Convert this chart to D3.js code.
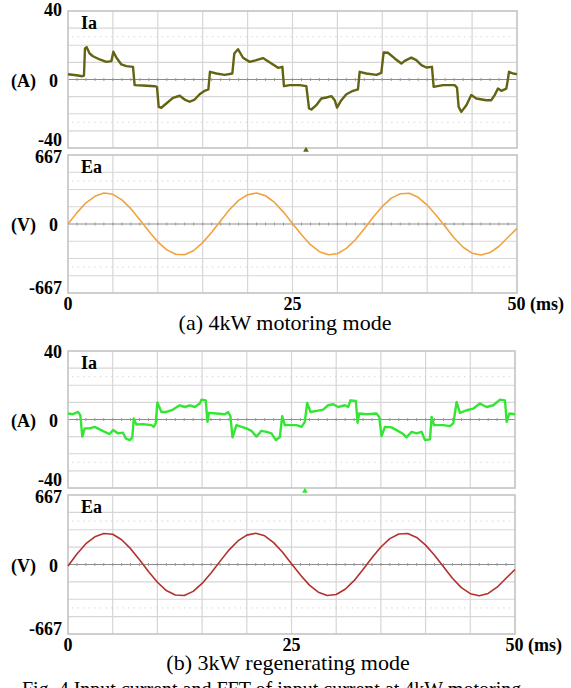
<!DOCTYPE html>
<html>
<head>
<meta charset="utf-8">
<script src="https://cdn.jsdelivr.net/npm/d3@7"></script>
<style>
  body { margin: 0; background: #fff; }
  text { font-family: "Liberation Serif", "Times New Roman", serif; }
</style>
</head>
<body>
<div id="chart"></div>
<script>
// ---------------------------------------------------------------------------
// DATA
// ---------------------------------------------------------------------------
const timeTicks = [0, 25, 50];
const iaTicks = [40, 0, -40];
const eaTicks = [667, 0, -667];

// (a) motoring: Ia [t ms, A]
const iaMotoring = [
  [0,3.1],[0.93,2.5],[1.6,1.9],[1.78,2.3],[1.89,18.1],[2.08,18.9],[2.41,15.2],[2.78,13.6],
  [3.53,11.7],[4.27,10.3],[4.83,10.7],[5.05,16.2],[5.38,12.8],[5.94,8.8],[6.5,7.8],[7.24,7.4],
  [7.42,-3.3],[8.35,-3.5],[9.65,-3.9],[9.91,-4.3],[10.1,-16.0],[10.39,-16.5],[10.95,-14.0],
  [11.69,-10.7],[12.44,-9.5],[12.99,-11.7],[13.55,-13.0],[14.11,-11.7],[14.66,-8.6],[15.22,-6.6],
  [15.63,-5.8],[15.81,4.5],[16.52,3.5],[17.45,2.7],[18.3,3.5],[18.52,15.2],[18.93,17.7],
  [19.49,12.7],[20.23,10.3],[20.97,11.3],[21.71,12.5],[22.27,10.7],[22.83,8.8],[23.39,6.8],
  [23.87,7.4],[24.05,-3.9],[24.68,-3.3],[25.8,-3.3],[26.54,-3.9],[26.84,-16.9],[27.1,-17.5],
  [27.65,-15.0],[28.21,-11.1],[28.77,-10.5],[29.33,-9.7],[29.7,-12.1],[29.96,-16.4],[30.44,-12.1],
  [31.0,-8.6],[31.74,-6.6],[32.29,-5.8],[32.48,4.5],[33.22,3.5],[34.34,2.7],[34.89,3.9],
  [35.15,15.8],[35.63,15.6],[36.38,12.3],[37.12,9.3],[37.49,10.9],[38.23,12.8],[38.79,11.3],
  [39.35,8.4],[39.9,7.0],[40.53,7.4],[40.72,-4.3],[41.76,-3.3],[43.06,-3.3],[43.32,-4.7],
  [43.5,-16.0],[43.8,-18.9],[44.36,-15.0],[44.91,-9.1],[45.47,-11.1],[46.58,-12.1],[47.14,-12.1],
  [47.51,-9.1],[47.88,-5.3],[48.26,-6.6],[48.81,-5.3],[48.96,-0.8],[49.11,4.5],[49.55,3.5],[50,3.1]
];

// (a) motoring: Ea sampled each 1 ms, V
const eaMotoring = [
  0,110,205,268,299,287,233,148,42,-70,-172,-250,-293,-297,-256,-180,-80,32,140,228,
  283,300,273,208,115,5,-104,-200,-268,-298,-287,-236,-152,-45,68,170,250,293,297,258,
  183,85,-25,-135,-225,-282,-300,-276,-215,-128,-42
];

// (b) regenerating: Ia [t ms, A]
const iaRegen = [
  [0,3.5],[0.56,3.1],[1.12,4.4],[1.38,2.5],[1.6,-10.0],[1.87,-5.2],[2.43,-5.2],[2.99,-4.3],
  [3.54,-5.8],[4.1,-7.2],[4.66,-8.5],[5.04,-6.2],[5.6,-8.1],[6.16,-7.7],[6.46,-11.0],[6.9,-12.0],
  [7.2,-10.4],[7.35,0.6],[7.65,-2.9],[8.4,-2.7],[9.33,-3.3],[9.59,-4.3],[9.81,-2.3],[10.0,9.9],
  [10.45,4.4],[11.01,4.4],[11.75,5.8],[12.5,8.3],[13.06,7.3],[13.62,8.3],[14.18,7.3],[14.74,9.3],
  [14.93,11.6],[15.41,11.2],[15.6,-1.4],[15.78,3.9],[16.6,3.5],[17.54,3.1],[17.91,4.4],[18.17,1.9],
  [18.4,-10.4],[18.84,-3.3],[19.4,-4.3],[19.96,-5.2],[20.52,-6.6],[21.08,-10.0],[21.64,-6.6],
  [22.2,-7.2],[22.76,-8.1],[23.25,-12.0],[23.69,-10.4],[23.96,1.9],[24.25,-3.3],[25.56,-3.3],
  [26.12,-4.3],[26.49,-1.4],[26.75,9.7],[27.13,4.4],[27.8,5.0],[28.54,5.8],[29.1,8.3],[29.66,8.9],
  [30.22,7.3],[30.97,8.3],[31.34,7.3],[31.6,11.2],[32.2,10.8],[32.39,-1.9],[32.57,3.5],[33.4,3.1],
  [34.51,3.5],[34.81,1.5],[35.07,-9.7],[35.45,-4.3],[36.19,-4.6],[36.75,-6.2],[37.5,-8.5],
  [37.87,-10.4],[38.43,-7.2],[38.99,-8.1],[39.55,-7.2],[39.93,-12.0],[40.49,-11.6],[40.67,1.5],
  [40.93,-3.3],[41.98,-3.3],[42.72,-3.9],[43.1,-2.3],[43.47,10.2],[43.84,3.9],[44.59,5.4],
  [45.34,6.4],[46.08,9.3],[46.83,7.3],[47.57,8.3],[48.32,11.6],[48.88,11.2],[49.07,-1.4],
  [49.37,3.5],[50,3.1]
];

// (b) regenerating: Ea sampled each 1 ms, V
const eaRegen = [
  -15,100,200,266,298,290,238,152,45,-68,-170,-250,-292,-298,-258,-182,-82,30,138,226,
  282,300,275,210,118,8,-100,-198,-266,-298,-288,-238,-155,-48,65,168,248,292,298,260,
  186,88,-22,-132,-222,-280,-300,-278,-218,-132,-48
];

// ---------------------------------------------------------------------------
// SVG setup
// ---------------------------------------------------------------------------
const svg = d3.select("#chart")
  .append("svg")
  .attr("width", 571)
  .attr("height", 688);

const fontB = "bold";

function drawPanel(opt) {
  const { x0, x1, y0, y1, domain, series, color, name, ticks, unit, topOff, botOff, width } = opt;

  const x = d3.scaleLinear().domain([0, 50]).range([x0, x1]);
  const y = d3.scaleLinear().domain(domain).range([y1, y0]);
  const g = svg.append("g");

  // grid
  g.selectAll(".vg").data(d3.range(5, 50, 5)).enter().append("line")
    .attr("x1", d => x(d)).attr("x2", d => x(d))
    .attr("y1", y0).attr("y2", y1)
    .attr("stroke", "#d6d6d6").attr("stroke-width", 1.2);

  const step = (domain[1] - domain[0]) / 8;
  g.selectAll(".hg").data(d3.range(1, 8).filter(i => i !== 4).map(i => domain[0] + i * step))
    .enter().append("line")
    .attr("x1", x0).attr("x2", x1)
    .attr("y1", d => y(d)).attr("y2", d => y(d))
    .attr("stroke", "#d6d6d6").attr("stroke-width", 1.2);

  // dotted lines at +-5/8 full scale
  g.selectAll(".dg").data([domain[1] * 5 / 8, domain[0] * 5 / 8]).enter().append("line")
    .attr("x1", x0 + 4).attr("x2", x1 - 4)
    .attr("y1", d => y(d)).attr("y2", d => y(d))
    .attr("stroke", "#cfcfcf").attr("stroke-width", 1)
    .attr("stroke-dasharray", "1.2,4.4");

  // zero axis with minor ticks
  g.append("line")
    .attr("x1", x0).attr("x2", x1)
    .attr("y1", y(0)).attr("y2", y(0))
    .attr("stroke", "#8c8c8c").attr("stroke-width", 1);
  g.selectAll(".zt").data(d3.range(1, 50, 1)).enter().append("line")
    .attr("x1", d => x(d)).attr("x2", d => x(d))
    .attr("y1", y(0) - 1.5).attr("y2", y(0) + 1.5)
    .attr("stroke", "#9a9a9a").attr("stroke-width", 1);

  // border
  g.append("rect")
    .attr("x", x0).attr("y", y0)
    .attr("width", x1 - x0).attr("height", y1 - y0)
    .attr("fill", "none").attr("stroke", "#c4c4c4").attr("stroke-width", 1.6);

  // trace
  g.append("path")
    .datum(series)
    .attr("fill", "none")
    .attr("stroke", color)
    .attr("stroke-width", width)
    .attr("stroke-linejoin", "round")
    .attr("d", d3.line().x(d => x(d[0])).y(d => y(d[1])));

  // labels
  g.append("text").attr("x", x0 + 13).attr("y", y0 + 18)
    .attr("font-size", 18).attr("font-weight", fontB).text(name);

  g.append("text").attr("x", 62).attr("y", y0 + topOff)
    .attr("text-anchor", "end").attr("font-size", 18).attr("font-weight", fontB)
    .text(ticks[0]);
  g.append("text").attr("x", 62).attr("y", y1 + botOff)
    .attr("text-anchor", "end").attr("font-size", 18).attr("font-weight", fontB)
    .text(ticks[2]);
  g.append("text").attr("x", 58).attr("y", y(0) + 7)
    .attr("text-anchor", "end").attr("font-size", 18).attr("font-weight", fontB)
    .text(ticks[1]);
  g.append("text").attr("x", 11).attr("y", y(0) + 7)
    .attr("font-size", 18).attr("font-weight", fontB)
    .text(unit);

  return x;
}

function drawTrigger(x, yPos, color) {
  svg.append("path")
    .attr("d", d3.symbol().type(d3.symbolTriangle).size(14)())
    .attr("transform", `translate(${x(26.5)},${yPos})`)
    .attr("fill", color);
}

function drawTimeAxis(x, yBase) {
  svg.selectAll(null).data(timeTicks.slice(0, 2)).enter().append("text")
    .attr("x", d => x(d)).attr("y", yBase)
    .attr("text-anchor", "middle").attr("font-size", 18).attr("font-weight", fontB)
    .text(d => d);
  svg.append("text")
    .attr("x", x(timeTicks[2]) - 9.5).attr("y", yBase)
    .attr("font-size", 18).attr("font-weight", fontB)
    .text(timeTicks[2] + " (ms)");
}

const eaSeries = arr => arr.map((v, i) => [i, v]);

// ---------------- (a) 4kW motoring ----------------
const xa = drawPanel({ x0: 68, x1: 517, y0: 11, y1: 148, domain: [-40, 40],
  series: iaMotoring, color: "#636312", name: "Ia", ticks: iaTicks, unit: "(A)",
  topOff: 5, botOff: -2, width: 2.4 });
drawTrigger(xa, 150, "#636312");
drawPanel({ x0: 68, x1: 517, y0: 155, y1: 293, domain: [-667, 667],
  series: eaSeries(eaMotoring), color: "#f2a23c", name: "Ea", ticks: eaTicks, unit: "(V)",
  topOff: 8, botOff: 1, width: 1.6 });
drawTimeAxis(xa, 310);
svg.append("text").attr("x", 285).attr("y", 330)
  .attr("text-anchor", "middle").attr("font-size", 22)
  .text("(a) 4kW motoring mode");

// ---------------- (b) 3kW regenerating ----------------
const xb = drawPanel({ x0: 68, x1: 515, y0: 351, y1: 488, domain: [-40, 40],
  series: iaRegen, color: "#33e633", name: "Ia", ticks: iaTicks, unit: "(A)",
  topOff: 7, botOff: -2, width: 2.4 });
drawTrigger(xb, 491, "#33e633");
drawPanel({ x0: 68, x1: 515, y0: 495, y1: 634, domain: [-667, 667],
  series: eaSeries(eaRegen), color: "#b3302c", name: "Ea", ticks: eaTicks, unit: "(V)",
  topOff: 8, botOff: 1, width: 1.6 });
drawTimeAxis(xb, 651);
svg.append("text").attr("x", 288).attr("y", 670)
  .attr("text-anchor", "middle").attr("font-size", 22)
  .text("(b) 3kW regenerating mode");

// figure caption, cut off by the page edge
svg.append("text").attr("x", 22).attr("y", 696)
  .attr("font-size", 20)
  .text("Fig. 4 Input current and FFT of input current at 4kW motoring");
</script>
</body>
</html>
